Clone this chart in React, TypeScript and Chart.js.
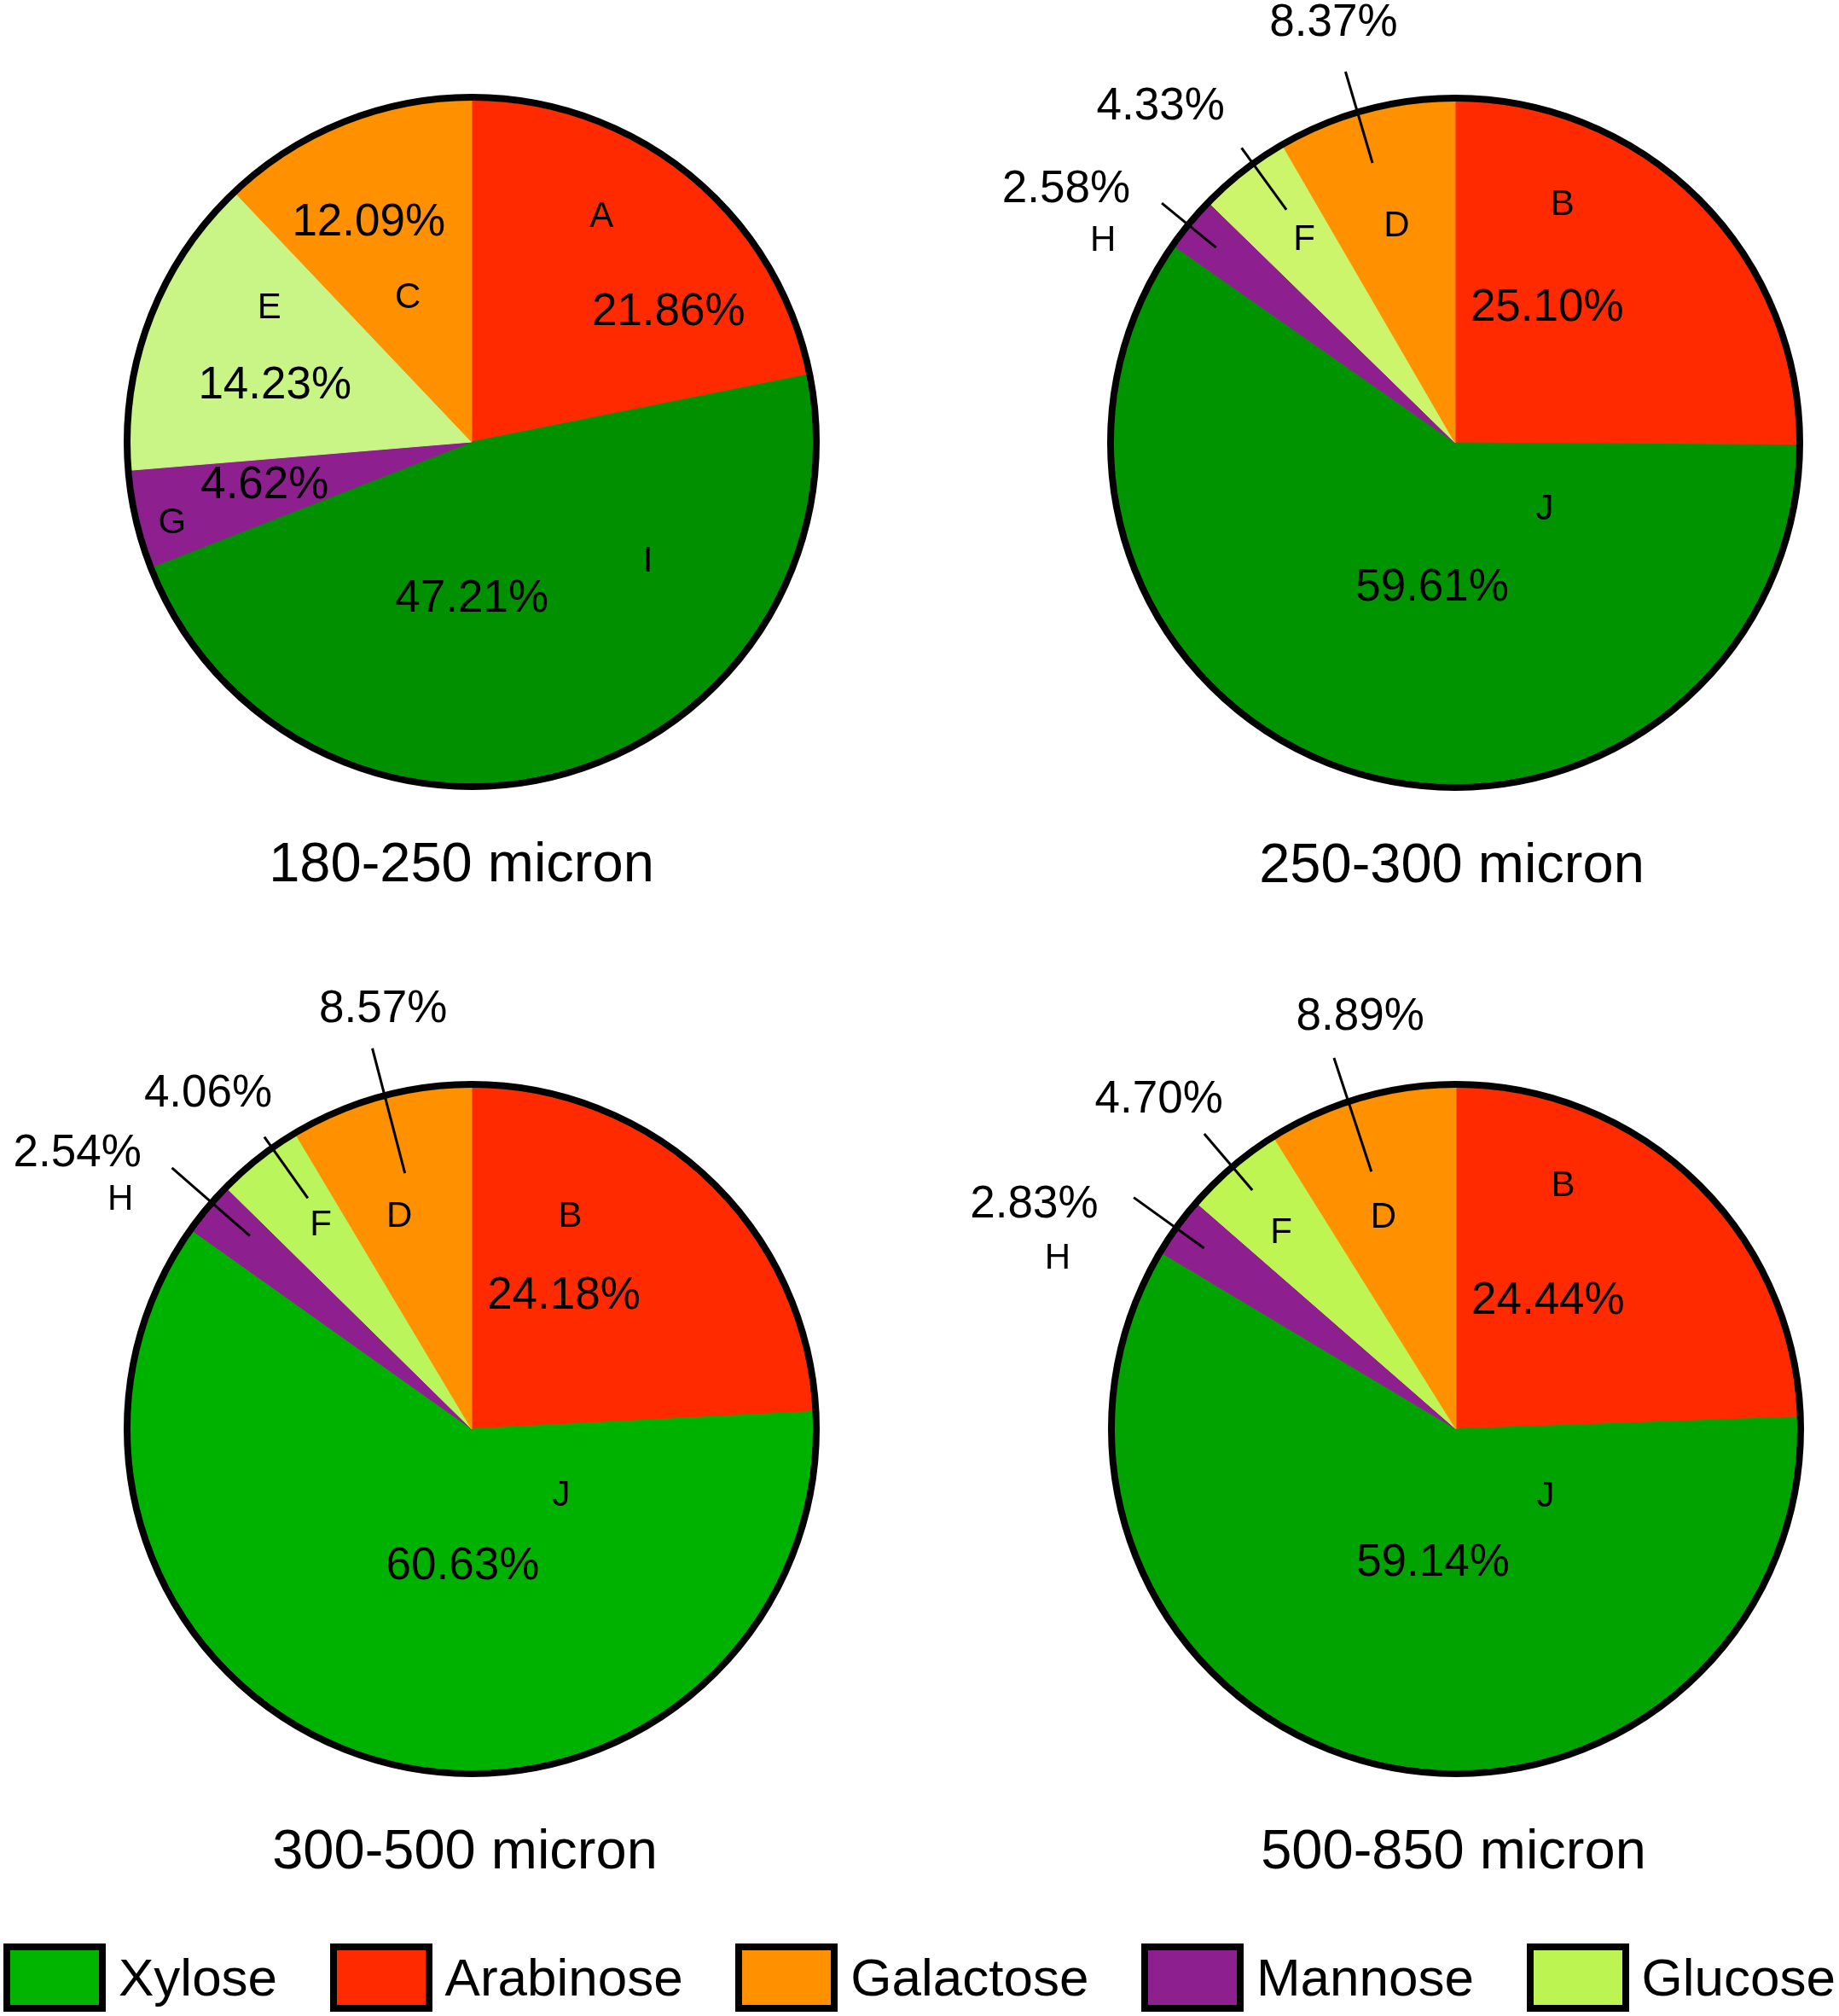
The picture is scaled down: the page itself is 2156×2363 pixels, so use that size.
import { useEffect, useRef } from "react";
import { Chart, PieController, ArcElement } from "chart.js";

Chart.register(PieController, ArcElement);

const FONT = "'Liberation Sans', Arial, sans-serif";

// slices run clockwise from 12 o'clock in this order
const sliceSugars = ["Arabinose", "Xylose", "Mannose", "Glucose", "Galactose"];
const legendSugars = ["Xylose", "Arabinose", "Galactose", "Mannose", "Glucose"];
const sizeTitles = ["180-250 micron", "250-300 micron", "300-500 micron", "500-850 micron"];

const share180 = [21.86, 47.21, 4.62, 14.23, 12.09];
const share250 = [25.1, 59.61, 2.58, 4.33, 8.37];
const share300 = [24.18, 60.63, 2.54, 4.06, 8.57];
const share500 = [24.44, 59.14, 2.83, 4.7, 8.89];

const letters180 = ["A", "I", "G", "E", "C"];
const lettersCoarse = ["B", "J", "H", "F", "D"];

const sugarColors: Record<string, string> = {
  Arabinose: "#ff2a00",
  Galactose: "#ff9100",
  Mannose: "#8e1f8e",
};
const xyloseShades = ["#009000", "#009400", "#00b200", "#00a300"];
const glucoseShades = ["#c8f586", "#ccf56c", "#bbf55c", "#bef552"];
const legendColors: Record<string, string> = {
  Xylose: "#00b400",
  Arabinose: "#ff2a00",
  Galactose: "#ff9100",
  Mannose: "#8e1f8e",
  Glucose: "#bcf552",
};

// label placement per slice: [degrees from slice middle, fraction of radius]
type LabelSpec = {
  letter: [number, number];
  pct: [number, number];
  leader?: [number, number, number];
};

const labelLayouts: LabelSpec[][] = [
  [
    { letter: [-9.3, 0.76], pct: [17.4, 0.69] },
    { letter: [-39.4, 0.625], pct: [16.3, 0.46] },
    { letter: [-2.2, 0.91], pct: [1.2, 0.62] },
    { letter: [12.5, 0.71], pct: [-4.9, 0.6] },
    { letter: [-2.2, 0.46], pct: [-3.4, 0.71] },
  ],
  [
    { letter: [-20.9, 0.764], pct: [-10.8, 0.477] },
    { letter: [-71.1, 0.327], pct: [-8.7, 0.432] },
    { letter: [-9.8, 1.19], pct: [-6.6, 1.36], leader: [-0.4, 0.905, 1.11] },
    { letter: [1.2, 0.74], pct: [-3.3, 1.31], leader: [2, 0.843, 1.067] },
    { letter: [-0.1, 0.656], pct: [-1.1, 1.28], leader: [-1.4, 0.855, 1.134] },
  ],
  [
    { letter: [-18.6, 0.685], pct: [-8.8, 0.474] },
    { letter: [-69.6, 0.327], pct: [-12.5, 0.405] },
    { letter: [-6.8, 1.23], pct: [-5, 1.41], leader: [1.1, 0.862, 1.165] },
    { letter: [1.6, 0.742], pct: [0, 1.25], leader: [2.8, 0.83, 1.05] },
    { letter: [-3.4, 0.657], pct: [3.5, 1.256], leader: [0.8, 0.775, 1.153] },
  ],
  [
    { letter: [-20.2, 0.778], pct: [-8.2, 0.461] },
    { letter: [-67.3, 0.329], pct: [-4.7, 0.399] },
    { letter: [-12.8, 1.27], pct: [-8, 1.4], leader: [-0.3, 0.909, 1.163] },
    { letter: [-1.3, 0.769], pct: [-1.6, 1.3], leader: [0, 0.92, 1.137] },
    { letter: [-3, 0.654], pct: [2.9, 1.238], leader: [-2.2, 0.794, 1.145] },
  ],
];

const titleShift = [-12, -4, -8, -3];

const PIE_R = 400;
const CELL_W = 1078;

interface PanelProps {
  index: number;
  left: number;
  top: number;
  height: number;
  cx: number;
  cy: number;
  values: number[];
  letters: string[];
}

function PiePanel({ index, left, top, height, cx, cy, values, letters }: PanelProps) {
  const canvasRef = useRef<HTMLCanvasElement | null>(null);

  useEffect(() => {
    const canvas = canvasRef.current;
    if (!canvas) return;

    const colors = sliceSugars.map((s) =>
      s === "Xylose" ? xyloseShades[index] : s === "Glucose" ? glucoseShades[index] : sugarColors[s],
    );
    const layout = labelLayouts[index];

    const labelPlugin = {
      id: "sliceLabels",
      afterDatasetsDraw(chart: Chart) {
        const ctx = chart.ctx;
        const arcs = chart.getDatasetMeta(0).data as any[];
        if (!arcs.length) return;
        const { x, y, outerRadius } = arcs[0];

        ctx.save();
        // black rim round the whole pie
        ctx.beginPath();
        ctx.arc(x, y, outerRadius + 4, 0, Math.PI * 2);
        ctx.lineWidth = 8;
        ctx.strokeStyle = "#000";
        ctx.stroke();

        const point = (arc: any, delta: number, rho: number) => {
          const a = (arc.startAngle + arc.endAngle) / 2 + (delta * Math.PI) / 180;
          return [x + rho * outerRadius * Math.cos(a), y + rho * outerRadius * Math.sin(a)];
        };

        ctx.fillStyle = "#000";
        ctx.textAlign = "center";
        ctx.textBaseline = "middle";
        arcs.forEach((arc, i) => {
          const spec = layout[i];
          if (spec.leader) {
            const [d, r1, r2] = spec.leader;
            const [x1, y1] = point(arc, d, r1);
            const [x2, y2] = point(arc, d, r2);
            ctx.beginPath();
            ctx.moveTo(x1, y1);
            ctx.lineTo(x2, y2);
            ctx.lineWidth = 3;
            ctx.stroke();
          }
          ctx.font = `42px ${FONT}`;
          const [lx, ly] = point(arc, spec.letter[0], spec.letter[1]);
          ctx.fillText(letters[i], lx, ly);
          ctx.font = `53px ${FONT}`;
          const [px, py] = point(arc, spec.pct[0], spec.pct[1]);
          ctx.fillText(`${values[i].toFixed(2)}%`, px, py);
        });

        ctx.font = `65px ${FONT}`;
        ctx.textBaseline = "alphabetic";
        ctx.fillText(sizeTitles[index], x + titleShift[index], y + 515);
        ctx.restore();
      },
    };

    const chart = new Chart(canvas, {
      type: "pie",
      data: {
        labels: sliceSugars,
        datasets: [
          {
            data: values,
            backgroundColor: colors,
            borderColor: colors,
            borderWidth: 1,
            radius: PIE_R,
          } as any,
        ],
      },
      options: {
        responsive: false,
        animation: false,
        events: [],
        layout: {
          padding: {
            left: cx - PIE_R,
            right: CELL_W - cx - PIE_R,
            top: cy - PIE_R,
            bottom: height - cy - PIE_R,
          },
        },
      },
      plugins: [labelPlugin],
    });

    return () => chart.destroy();
  }, [index, height, cx, cy, values, letters]);

  return (
    <canvas
      ref={canvasRef}
      width={CELL_W}
      height={height}
      style={{ position: "absolute", left, top, width: CELL_W, height }}
    />
  );
}

export default function App() {
  useEffect(() => {
    document.body.style.margin = "0";
  }, []);

  return (
    <div style={{ position: "relative", width: 2156, height: 2363, background: "#fff", fontFamily: FONT }}>
      <PiePanel index={0} left={0} top={0} height={1150} cx={553} cy={518} values={share180} letters={letters180} />
      <PiePanel index={1} left={CELL_W} top={0} height={1150} cx={628} cy={519} values={share250} letters={lettersCoarse} />
      <PiePanel index={2} left={0} top={1150} height={1120} cx={553} cy={525} values={share300} letters={lettersCoarse} />
      <PiePanel index={3} left={CELL_W} top={1150} height={1120} cx={629} cy={525} values={share500} letters={lettersCoarse} />

      {/* shared legend */}
      <div
        style={{
          position: "absolute",
          left: 4,
          top: 2278,
          width: 2148,
          height: 80,
          display: "flex",
          justifyContent: "space-between",
          alignItems: "center",
        }}
      >
        {legendSugars.map((s) => (
          <div key={s} style={{ display: "flex", alignItems: "center" }}>
            <div
              style={{
                width: 120,
                height: 80,
                boxSizing: "border-box",
                border: "8px solid #000",
                background: legendColors[s],
              }}
            />
            <span style={{ marginLeft: 15, fontSize: 62, lineHeight: "80px", color: "#000" }}>{s}</span>
          </div>
        ))}
      </div>
    </div>
  );
}
